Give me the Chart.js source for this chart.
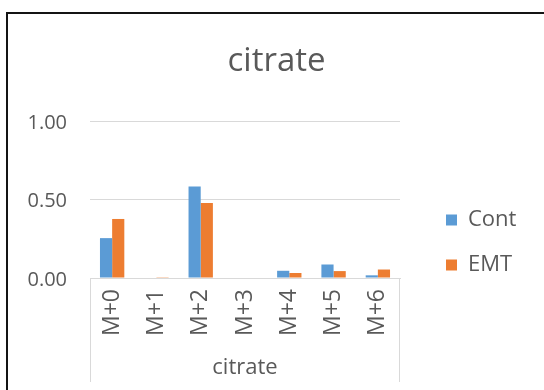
<!DOCTYPE html>
<html>
<head>
<meta charset="utf-8">
<script src="https://cdn.jsdelivr.net/npm/chart.js@4/dist/chart.umd.min.js"></script>
<style>
  html, body { margin: 0; padding: 0; background: #ffffff; }
  canvas { display: block; }
</style>
</head>
<body>
<canvas id="chart" width="544" height="390"></canvas>
<script>
// Isotopologue fractions of citrate, control vs EMT
const categories = ['M+0', 'M+1', 'M+2', 'M+3', 'M+4', 'M+5', 'M+6'];
const contValues = [0.254, 0, 0.583, 0, 0.046, 0.086, 0.017];
const emtValues  = [0.376, 0.005, 0.478, 0, 0.032, 0.044, 0.054];
const seriesNames = ['Cont', 'EMT'];
const yTicks = [0, 0.5, 1.0];
const chartTitle = 'citrate';
const axisTitle = 'citrate';

const FONT = '"Open Sans", "Noto Sans", "DejaVu Sans", sans-serif';
const TEXT = '#595959';
const GRID = '#d9d9d9';

// Dark frame along the top and left edge of the chart
const chartFrame = {
  id: 'chartFrame',
  beforeDraw(chart) {
    const ctx = chart.ctx;
    ctx.save();
    ctx.strokeStyle = '#141414';
    ctx.lineWidth = 2;
    ctx.beginPath();
    ctx.moveTo(7, chart.height);
    ctx.lineTo(7, 13);
    ctx.lineTo(chart.width, 13);
    ctx.stroke();
    ctx.restore();
  }
};

// Side walls of the category label box below the plot
const categoryBox = {
  id: 'categoryBox',
  afterDraw(chart) {
    const sx = chart.scales.x;
    const ctx = chart.ctx;
    ctx.save();
    ctx.strokeStyle = GRID;
    ctx.lineWidth = 1;
    ctx.beginPath();
    const l = Math.round(sx.left) + 0.5;
    const r = Math.round(sx.right) - 0.5;
    ctx.moveTo(l, sx.top); ctx.lineTo(l, sx.bottom - 8);
    ctx.moveTo(r, sx.top); ctx.lineTo(r, sx.bottom - 8);
    ctx.stroke();
    ctx.restore();
  }
};

// Place the legend beside the plot, a little below its top
const legendPlacement = {
  id: 'legendPlacement',
  afterLayout(chart) {
    const lg = chart.legend;
    const ca = chart.chartArea;
    const w = lg.width;
    lg.left = ca.right + 23;
    lg.right = lg.left + w;
    lg.top = ca.top + 65;
  }
};

new Chart(document.getElementById('chart'), {
  type: 'bar',
  data: {
    labels: categories,
    datasets: [
      { label: seriesNames[0], data: contValues, backgroundColor: '#5B9BD5', borderWidth: 0 },
      { label: seriesNames[1], data: emtValues,  backgroundColor: '#ED7D31', borderWidth: 0 }
    ]
  },
  options: {
    responsive: false,
    animation: false,
    devicePixelRatio: 1,
    categoryPercentage: 0.55,
    barPercentage: 1.0,
    layout: { padding: { left: 26, right: 17, top: 0, bottom: 0 } },
    scales: {
      x: {
        grid: { display: false, drawTicks: false },
        border: { display: true, color: GRID, width: 1 },
        ticks: {
          minRotation: 90, maxRotation: 90, padding: 11,
          color: TEXT, font: { family: FONT, size: 23 }
        },
        title: {
          display: true, text: axisTitle, color: TEXT,
          font: { family: FONT, size: 22 },
          padding: { top: 0, bottom: 9 }
        },
        afterFit(s) { s.height = 112; }
      },
      y: {
        min: yTicks[0],
        max: yTicks[yTicks.length - 1],
        ticks: {
          stepSize: yTicks[1] - yTicks[0],
          padding: 23,
          labelOffset: 2,
          color: TEXT,
          font: { family: FONT, size: 20 },
          callback: v => Number(v).toFixed(2)
        },
        grid: { color: GRID, lineWidth: 1, drawTicks: false },
        border: { display: false },
        afterFit(s) { s.width = 64; }
      },
      // empty spacer between the plot and the legend
      gap: {
        type: 'linear',
        position: 'right',
        display: true,
        ticks: { display: false },
        grid: { display: false, drawTicks: false },
        border: { display: false },
        afterFit(s) { s.width = 32; }
      }
    },
    plugins: {
      title: {
        display: true, text: chartTitle, color: TEXT,
        font: { family: FONT, size: 33, weight: 'normal' },
        padding: { top: 42, bottom: 39.4 }
      },
      legend: {
        position: 'right',
        align: 'start',
        maxWidth: 95,
        labels: {
          boxWidth: 11, boxHeight: 11, padding: 23,
          color: TEXT, font: { family: FONT, size: 22 }
        }
      },
      tooltip: { enabled: false }
    }
  },
  plugins: [chartFrame, categoryBox, legendPlacement]
});
</script>
</body>
</html>
